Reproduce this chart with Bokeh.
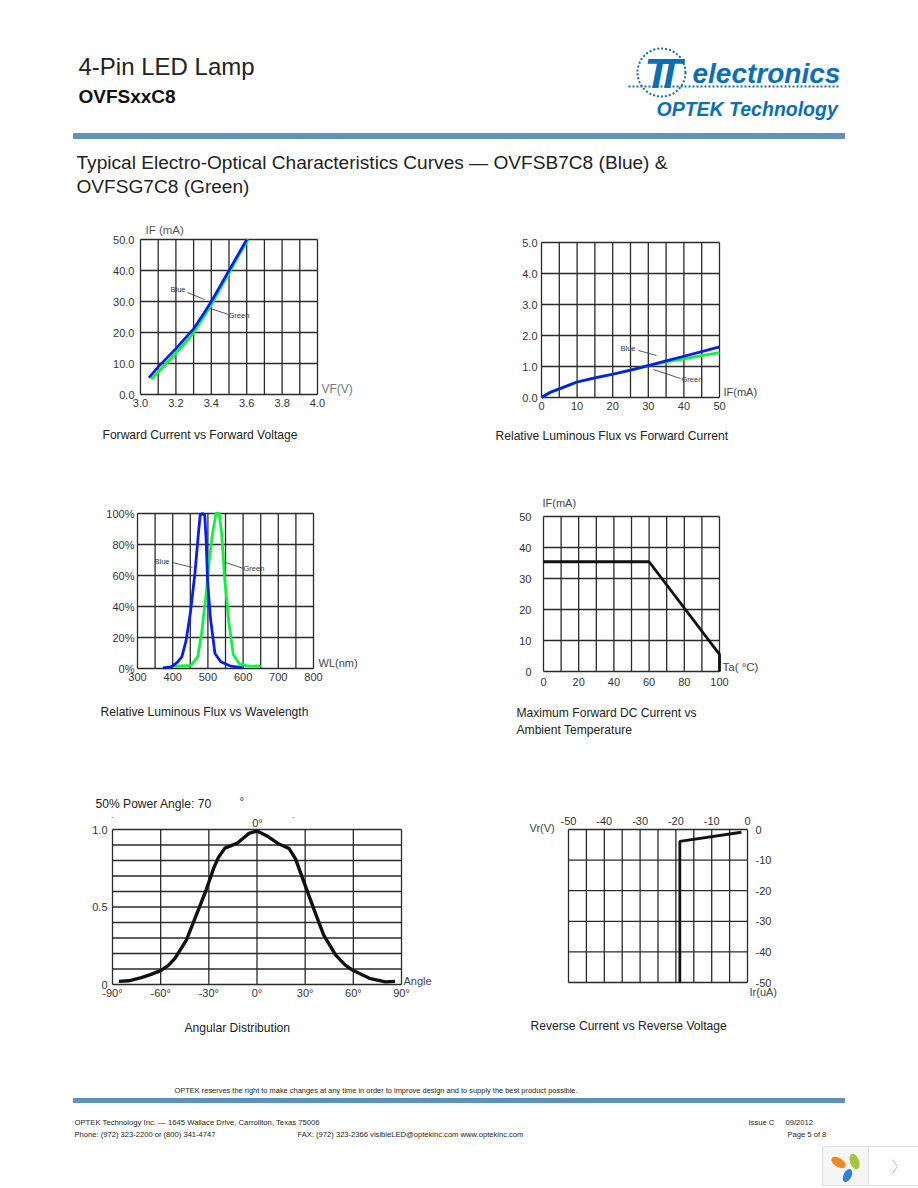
from bokeh.plotting import figure
from bokeh.layouts import column, row
from bokeh.models import Range1d, FixedTicker, LinearAxis
from bokeh.core.properties import value
from bokeh.embed import file_html
from bokeh.resources import INLINE

FONT = "Liberation Sans"
BLUE = "#0a1cf0"
GREEN = "#0df53a"
INK = "#333333"
GRID = "#2a2a2a"
RULE = "#5b92bf"
LOGO = "#0a6fb5"
CAP = 12.1

# ---------- data ----------
f_vf_blue = [3.047, 3.1, 3.2, 3.25, 3.3, 3.35, 3.4, 3.45, 3.5, 3.55, 3.6]
f_if_blue = [5.4, 8.9, 14.8, 18.0, 21.2, 25.5, 30.0, 35.0, 40.0, 45.0, 50.0]
f_vf_green = [3.06, 3.1, 3.2, 3.25, 3.3, 3.35, 3.4, 3.45, 3.505, 3.555, 3.608]
f_if_green = [5.0, 7.2, 13.4, 16.5, 20.0, 24.5, 29.0, 34.2, 39.8, 45.0, 50.0]

l_if = [0, 2.5, 5, 10, 15, 20, 25, 30, 35, 40, 45, 50]
l_flux_blue = [0, 0.17, 0.28, 0.5, 0.63, 0.75, 0.88, 1.03, 1.18, 1.33, 1.48, 1.63]
l_flux_green = [0, 0.17, 0.28, 0.5, 0.63, 0.75, 0.88, 1.03, 1.15, 1.25, 1.35, 1.45]

wl_blue = [372, 396, 413, 426, 438, 450, 463, 473, 478, 485, 491, 495, 499, 507, 520, 537, 565, 598]
pct_blue = [0.4, 1, 3.9, 7.5, 18, 35.5, 61, 87, 99, 100, 99, 83, 57, 33, 9.7, 4.3, 1.5, 0.6]
wl_green = [391, 424, 452, 471, 482, 495, 504, 513, 523, 532, 539, 548, 560, 572, 589, 612, 650]
pct_green = [1, 1.7, 2, 7.5, 22.6, 48, 70, 87, 100, 100, 87, 57, 29, 9, 3, 1.7, 1.5]

ta = [0, 60, 100, 100]
if_max = [35.4, 35.4, 5.5, 0]

ang = [-86, -80, -72, -66, -60, -55, -51, -44, -38.5, -32, -27, -24, -20, -12.5, -5, 0, 6, 13, 20, 24, 30, 36, 41.5, 49, 55, 60, 70, 80, 86]
rel = [0.02, 0.024, 0.045, 0.065, 0.09, 0.125, 0.17, 0.286, 0.43, 0.6, 0.75, 0.82, 0.88, 0.91, 0.975, 0.99, 0.96, 0.91, 0.877, 0.81, 0.64, 0.47, 0.32, 0.19, 0.125, 0.09, 0.04, 0.017, 0.02]

ir = [-1.7, -18.9, -18.9]
vr = [-0.9, -3.9, -50]

# ---------- helpers ----------
def page_fig(y0, y1):
    p = figure(width=918, height=y1 - y0, x_range=Range1d(0, 918), y_range=Range1d(y1, y0),
               output_backend="svg", toolbar_location=None, min_border=0,
               x_axis_type=None, y_axis_type=None, outline_line_color=None)
    p.grid.visible = False
    return p

def txt(p, x, y, s, size, color="#222222", style="normal", align="left", **kw):
    p.text([x], [y - 0.4 * size], text=[s], text_font=value(FONT), text_font_size=f"{size}px",
           text_color=color, text_font_style=style, text_align=align, text_baseline="alphabetic", **kw)

def panel(cell, frame, xr, yr, xmaj, xmin, xlab, ymaj, ymin, ylab, xloc="below", yloc="left",
          xstand=4, ystand=3, size=11):
    cx0, cy0, cx1, cy1 = cell
    fx0, fy0, fx1, fy1 = frame
    kx = (xr[1] - xr[0]) / (fx1 - fx0)
    ky = (yr[1] - yr[0]) / (fy1 - fy0)
    p = figure(width=cx1 - cx0, height=cy1 - cy0,
               x_range=Range1d(xr[0] - (fx0 - cx0) * kx, xr[1] + (cx1 - fx1) * kx),
               y_range=Range1d(yr[0] - (cy1 - fy1) * ky, yr[1] + (fy0 - cy0) * ky),
               output_backend="svg", toolbar_location=None, min_border=0,
               x_axis_type=None, y_axis_type=None, outline_line_color=None)
    p.grid.visible = False
    p.extra_x_ranges["page"] = Range1d(cx0, cx1)
    p.extra_y_ranges["page"] = Range1d(cy1, cy0)
    xall = sorted(list(xmaj) + list(xmin))
    yall = sorted(list(ymaj) + list(ymin))
    p.segment(x0=xall, x1=xall, y0=[yr[0]] * len(xall), y1=[yr[1]] * len(xall), line_color=GRID, line_width=1.3)
    p.segment(x0=[xr[0]] * len(yall), x1=[xr[1]] * len(yall), y0=yall, y1=yall, line_color=GRID, line_width=1.3)
    xfix = yr[0] if xloc == "below" else yr[1]
    yfix = xr[0] if yloc == "left" else xr[1]
    for maj, lb, st, fix, loc in ((xmaj, xlab, xstand, xfix, xloc), (ymaj, ylab, ystand, yfix, yloc)):
        ax = LinearAxis(fixed_location=fix, ticker=FixedTicker(ticks=maj))
        ax.major_label_overrides = dict(zip(maj, lb))
        ax.axis_line_color = None
        ax.major_tick_line_color = None
        ax.minor_tick_line_color = None
        ax.major_tick_out = 0
        ax.major_tick_in = 0
        ax.minor_tick_out = 0
        ax.major_label_standoff = st
        ax.major_label_text_font = FONT
        ax.major_label_text_font_size = f"{size}px"
        ax.major_label_text_color = INK
        p.add_layout(ax, loc)
    return p

def lab(p, x, y, s, size=11, color=INK, align="left"):
    txt(p, x, y + 0.36 * size, s, size, color, align=align, x_range_name="page", y_range_name="page")

def leader(p, x0, y0, x1, y1, color="#444444"):
    p.line([x0, x1], [y0, y1], x_range_name="page", y_range_name="page", line_color=color, line_width=0.9)

# ---------- header ----------
head = page_fig(0, 215)
txt(head, 78, 76, "4-Pin LED Lamp", 24, "#222222")
txt(head, 78, 104, "OVFSxxC8", 19, "#111111", "bold")
head.quad(left=[73], right=[844], top=[133], bottom=[138], color=RULE)
txt(head, 76, 170, "Typical Electro-Optical Characteristics Curves \u2014 OVFSB7C8 (Blue)  &", 19.1)
txt(head, 76, 194, "OVFSG7C8 (Green)", 19.1)
head.circle([661], [72], radius=24, fill_color=None, line_color=LOGO, line_width=2, line_dash="2 2")
head.line([628, 840], [86, 86], line_color=LOGO, line_width=2, line_dash="2 2")
txt(head, 644, 90, "T", 42, LOGO, "bold italic")
txt(head, 656, 90, "T", 42, LOGO, "bold italic")
txt(head, 692, 84, "electronics", 28, LOGO, "bold italic")
txt(head, 656, 116, "OPTEK Technology", 19.5, LOGO, "bold italic")

# ---------- row 1 ----------
f1 = panel((0, 215, 470, 480), (140, 239, 317, 394), (3.0, 4.0), (0, 50),
           [3.0, 3.2, 3.4, 3.6, 3.8, 4.0], [3.1, 3.3, 3.5, 3.7, 3.9], ["3.0", "3.2", "3.4", "3.6", "3.8", "4.0"],
           [0, 10, 20, 30, 40, 50], [], ["0.0", "10.0", "20.0", "30.0", "40.0", "50.0"], ystand=6)
f1.line(f_vf_green, f_if_green, line_color=GREEN, line_width=3.2)
f1.line(f_vf_blue, f_if_blue, line_color=BLUE, line_width=2.6)
leader(f1, 187, 292, 204, 299)
leader(f1, 210, 308, 228, 314)
lab(f1, 170, 289, "Blue", 7.5)
lab(f1, 228, 315, "Green", 7.5)
lab(f1, 145, 230, "IF (mA)", 11.5, "#555555")
lab(f1, 321, 389, "VF(V)", 12, "#777777")
lab(f1, 102, 435, "Forward Current vs Forward Voltage", CAP, "#222222")

f2 = panel((470, 215, 918, 480), (541, 242, 719, 397), (0, 50), (0, 5),
           [0, 10, 20, 30, 40, 50], [5, 15, 25, 35, 45], ["0", "10", "20", "30", "40", "50"],
           [0, 1, 2, 3, 4, 5], [], ["0.0", "1.0", "2.0", "3.0", "4.0", "5.0"], xstand=4, ystand=4)
f2.line(l_if, l_flux_green, line_color=GREEN, line_width=2.8)
f2.line(l_if, l_flux_blue, line_color=BLUE, line_width=2.8)
leader(f2, 638, 350, 656, 355)
leader(f2, 653, 369, 680, 378)
lab(f2, 620, 348, "Blue", 7.5)
lab(f2, 681, 379, "Green", 7.5)
lab(f2, 723, 392, "IF(mA)", 11, "#444444")
lab(f2, 495, 436, "Relative Luminous Flux vs Forward Current", CAP, "#222222")

# ---------- row 2 ----------
f3 = panel((0, 480, 470, 780), (137, 513, 313, 668), (300, 800), (0, 100),
           [300, 400, 500, 600, 700, 800], [350, 450, 550, 650, 750], ["300", "400", "500", "600", "700", "800"],
           [0, 20, 40, 60, 80, 100], [], ["0%", "20%", "40%", "60%", "80%", "100%"])
f3.line(wl_green, pct_green, line_color=GREEN, line_width=2.8)
f3.line(wl_blue, pct_blue, line_color=BLUE, line_width=2.8)
leader(f3, 172, 562, 192, 567)
leader(f3, 225, 562, 243, 568)
lab(f3, 154, 561, "Blue", 7.5)
lab(f3, 243, 568, "Green", 7.5)
lab(f3, 318, 663, "WL(nm)", 11, "#444444")
lab(f3, 100, 712, "Relative Luminous Flux vs Wavelength", CAP, "#222222")

f4 = panel((470, 480, 918, 780), (543, 516, 719, 671), (0, 100), (0, 50),
           [0, 20, 40, 60, 80, 100], [10, 30, 50, 70, 90], ["0", "20", "40", "60", "80", "100"],
           [0, 10, 20, 30, 40, 50], [], ["0", "10", "20", "30", "40", "50"], ystand=12, xstand=6)
f4.line(ta, if_max, line_color="#111111", line_width=2.8)
lab(f4, 542, 503, "IF(mA)", 11, "#444444")
lab(f4, 722, 667, "Ta( \u00b0C)", 11.5, "#444444")
lab(f4, 516, 713, "Maximum Forward DC Current vs", CAP, "#222222")
lab(f4, 516, 730, "Ambient Temperature", CAP, "#222222")

# ---------- row 3 ----------
f5 = panel((0, 780, 470, 1080), (112, 829, 401, 984), (-90, 90), (0, 1),
           [-90, -60, -30, 0, 30, 60, 90], [], ["-90\u00b0", "-60\u00b0", "-30\u00b0", "0\u00b0", "30\u00b0", "60\u00b0", "90\u00b0"],
           [0, 0.5, 1], [0.1, 0.2, 0.3, 0.4, 0.6, 0.7, 0.8, 0.9], ["0", "0.5", "1.0"], xstand=2, ystand=5, size=11)
f5.line(ang, rel, line_color="#111111", line_width=3.4, line_join="round")
lab(f5, 257, 823, "0\u00b0", 11, INK, "center")
lab(f5, 403, 981, "Angle", 11, "#444444")
lab(f5, 95, 804, "50% Power Angle: 70", CAP, "#222222")
lab(f5, 239, 801, "\u00b0", 11.5, "#222222")
lab(f5, 184, 1028, "Angular Distribution", CAP, "#222222")
leader(f5, 111, 817, 113, 817, "#999999")
leader(f5, 292, 817, 294, 817, "#999999")

f6 = panel((470, 780, 918, 1080), (568, 829, 747, 982), (-50, 0), (-50, 0),
           [-50, -40, -30, -20, -10, 0], [-45, -35, -25, -15, -5], ["-50", "-40", "-30", "-20", "-10", "0"],
           [-50, -40, -30, -20, -10, 0], [], ["-50", "-40", "-30", "-20", "-10", "0"],
           xloc="above", yloc="right", xstand=5, ystand=8)
f6.line(ir, vr, line_color="#111111", line_width=2.8)
lab(f6, 529, 828, "Vr(V)", 11, "#444444")
lab(f6, 749, 992, "Ir(uA)", 11, "#444444")
lab(f6, 530, 1026, "Reverse Current vs Reverse Voltage", CAP, "#222222")

# ---------- footer ----------
foot = page_fig(1080, 1188)
txt(foot, 174, 1093, "OPTEK reserves the right to make changes at any time in order to improve design and to supply the best product possible.", 7.45)
foot.quad(left=[73], right=[844], top=[1098], bottom=[1102], color=RULE)
txt(foot, 74, 1125, "OPTEK Technology Inc. \u2014 1645 Wallace Drive, Carrollton, Texas 75006", 7.7)
txt(foot, 74, 1137, "Phone: (972) 323-2200 or (800) 341-4747", 7.6)
txt(foot, 297, 1137, "FAX: (972) 323-2366   visibleLED@optekinc.com   www.optekinc.com", 7.6)
txt(foot, 748, 1125, "Issue C", 7.6)
txt(foot, 785, 1125, "09/2012", 7.6)
txt(foot, 787, 1137, "Page 5 of 8", 7.6)
foot.quad(left=[822], right=[868], top=[1146], bottom=[1185], fill_color="#f5f5f5", line_color="#dddddd")
foot.quad(left=[868], right=[918], top=[1146], bottom=[1185], fill_color="#ffffff", line_color="#dddddd")
foot.ellipse([838], [1162], width=[16], height=[9], angle=[-0.55], fill_color="#ef8a24", line_color=None)
foot.ellipse([854], [1161], width=[16], height=[9], angle=[-1.2], fill_color="#a5c63b", line_color=None)
foot.ellipse([847], [1175], width=[14], height=[8], angle=[1.1], fill_color="#2f86cf", line_color=None)
foot.line([892, 897, 892], [1159, 1166, 1173], line_color="#bbbbbb", line_width=1)

layout = column(head, row(f1, f2), row(f3, f4), row(f5, f6), foot)
open("out.html", "w").write(file_html(layout, INLINE))
